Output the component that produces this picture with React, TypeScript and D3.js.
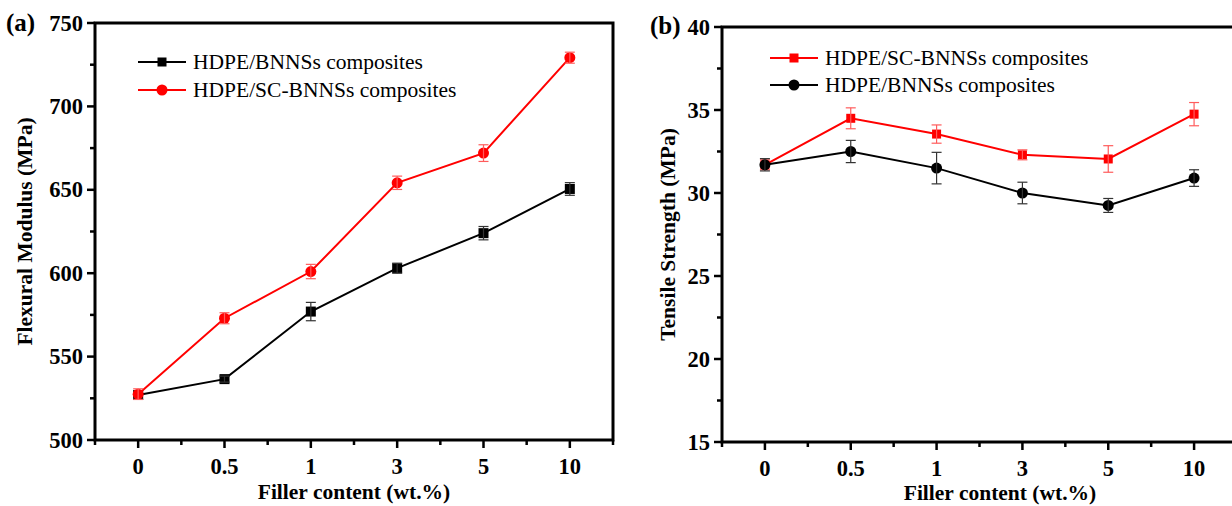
import { useRef, useEffect } from "react";
import * as d3 from "d3";

// filler loadings (wt.%) shown as evenly spaced categories
const fillerLabels = ["0", "0.5", "1", "3", "5", "10"];

// (a) flexural modulus, MPa
const modulusBNNS = [527, 536.5, 577, 603, 624, 650.5];
const modulusBNNSErr = [2.5, 1.8, 5.5, 3, 4, 3.8];
const modulusSC = [527.5, 573, 601, 654.2, 672, 729.2];
const modulusSCErr = [3.2, 3.3, 4.3, 4, 5, 3.3];
const modulusTicks = [500, 550, 600, 650, 700, 750];

// (b) tensile strength, MPa
const strengthSC = [31.7, 34.5, 33.55, 32.3, 32.05, 34.75];
const strengthSCErr = [0.3, 0.63, 0.55, 0.3, 0.8, 0.7];
const strengthBNNS = [31.7, 32.5, 31.5, 30.0, 29.25, 30.9];
const strengthBNNSErr = [0.37, 0.67, 0.95, 0.65, 0.42, 0.5];
const strengthTicks = [15, 20, 25, 30, 35, 40];

const FONT = "'Liberation Serif', 'Times New Roman', serif";

type Series = {
  name: string;
  values: number[];
  errors: number[];
  color: string;
  errColor: string;
  marker: "square" | "circle";
};

type PanelCfg = {
  tag: string;
  left: number;
  right: number;
  top: number;
  bottom: number;
  domain: [number, number];
  ticks: number[];
  minorStep: number;
  yTitle: string;
  yTitleX: number;
  xTitleX: number;
  xTitleY: number;
  tagX: number;
  tagY: number;
  legendX: number;
  legendY: number;
  legendGap: number;
  squareSize: number;
  series: Series[];
};

const panels: PanelCfg[] = [
  {
    tag: "(a)",
    left: 95, right: 613, top: 23, bottom: 440,
    domain: [500, 750],
    ticks: modulusTicks,
    minorStep: 25,
    yTitle: "Flexural Modulus (MPa)",
    yTitleX: 25,
    xTitleX: 354, xTitleY: 492,
    tagX: 6, tagY: 22,
    legendX: 138, legendY: 62, legendGap: 28,
    squareSize: 10,
    series: [
      { name: "HDPE/BNNSs composites", values: modulusBNNS, errors: modulusBNNSErr, color: "#000", errColor: "#333", marker: "square" },
      { name: "HDPE/SC-BNNSs composites", values: modulusSC, errors: modulusSCErr, color: "#ff0000", errColor: "#ff5c5c", marker: "circle" },
    ],
  },
  {
    tag: "(b)",
    left: 722, right: 1237, top: 27, bottom: 442,
    domain: [15, 40],
    ticks: strengthTicks,
    minorStep: 2.5,
    yTitle: "Tensile Strength (MPa)",
    yTitleX: 668,
    xTitleX: 1000, xTitleY: 493,
    tagX: 650, tagY: 25,
    legendX: 770, legendY: 58, legendGap: 27,
    squareSize: 9,
    series: [
      { name: "HDPE/SC-BNNSs composites", values: strengthSC, errors: strengthSCErr, color: "#ff0000", errColor: "#ff5c5c", marker: "square" },
      { name: "HDPE/BNNSs composites", values: strengthBNNS, errors: strengthBNNSErr, color: "#000", errColor: "#333", marker: "circle" },
    ],
  },
];

function drawMarker(g: any, kind: string, x: number, y: number, color: string, size: number) {
  if (kind === "square") {
    g.append("rect")
      .attr("x", x - size / 2)
      .attr("y", y - size / 2)
      .attr("width", size)
      .attr("height", size)
      .attr("fill", color);
  } else {
    g.append("circle")
      .attr("cx", x)
      .attr("cy", y)
      .attr("r", 5.5)
      .attr("fill", color);
  }
}

function drawPanel(svg: any, p: PanelCfg) {
  const x = d3.scalePoint<string>()
    .domain(fillerLabels)
    .range([p.left, p.right])
    .padding(0.5);
  const y = d3.scaleLinear().domain(p.domain).range([p.bottom, p.top]);
  const step = x.step();

  const g = svg.append("g");

  // frame
  g.append("rect")
    .attr("x", p.left)
    .attr("y", p.top)
    .attr("width", p.right - p.left)
    .attr("height", p.bottom - p.top)
    .attr("fill", "none")
    .attr("stroke", "#000")
    .attr("stroke-width", 3);

  // y ticks (major + minor, outward)
  const minor = d3.range(p.domain[0], p.domain[1] + 1e-9, p.minorStep);
  minor.forEach(v => {
    const isMajor = p.ticks.some(t => Math.abs(t - v) < 1e-6);
    g.append("line")
      .attr("x1", p.left)
      .attr("x2", p.left - (isMajor ? 8 : 5))
      .attr("y1", y(v))
      .attr("y2", y(v))
      .attr("stroke", "#000")
      .attr("stroke-width", 2.5);
  });
  p.ticks.forEach(v => {
    g.append("text")
      .attr("x", p.left - 12)
      .attr("y", y(v))
      .attr("text-anchor", "end")
      .attr("dominant-baseline", "central")
      .style("font-family", FONT)
      .style("font-weight", "700")
      .style("font-size", "22.5px")
      .text(v);
  });

  // x ticks: majors at categories, minors halfway between
  fillerLabels.forEach(c => {
    const cx = x(c) as number;
    g.append("line")
      .attr("x1", cx).attr("x2", cx)
      .attr("y1", p.bottom).attr("y2", p.bottom + 8)
      .attr("stroke", "#000").attr("stroke-width", 2.5);
    g.append("text")
      .attr("x", cx)
      .attr("y", p.bottom + 26)
      .attr("text-anchor", "middle")
      .attr("dominant-baseline", "central")
      .style("font-family", FONT)
      .style("font-weight", "700")
      .style("font-size", "22.5px")
      .text(c);
  });
  d3.range(-1, fillerLabels.length).forEach(i => {
    const mx = (x(fillerLabels[0]) as number) + (i + 0.5) * step;
    g.append("line")
      .attr("x1", mx).attr("x2", mx)
      .attr("y1", p.bottom).attr("y2", p.bottom + 5)
      .attr("stroke", "#000").attr("stroke-width", 2.5);
  });

  // axis titles
  g.append("text")
    .attr("x", p.xTitleX)
    .attr("y", p.xTitleY)
    .attr("text-anchor", "middle")
    .attr("dominant-baseline", "central")
    .style("font-family", FONT)
    .style("font-weight", "700")
    .style("font-size", "21.5px")
    .text("Filler content (wt.%)");

  g.append("text")
    .attr("transform", `translate(${p.yTitleX}, ${(p.top + p.bottom) / 2}) rotate(-90)`)
    .attr("text-anchor", "middle")
    .attr("dominant-baseline", "central")
    .style("font-family", FONT)
    .style("font-weight", "700")
    .style("font-size", "21.5px")
    .text(p.yTitle);

  g.append("text")
    .attr("x", p.tagX)
    .attr("y", p.tagY)
    .attr("dominant-baseline", "central")
    .style("font-family", FONT)
    .style("font-weight", "700")
    .style("font-size", "25px")
    .text(p.tag);

  // series
  const line = d3.line<number>()
    .x((_, i) => x(fillerLabels[i]) as number)
    .y(d => y(d));

  p.series.forEach(s => {
    const sg = g.append("g");
    sg.append("path")
      .attr("d", line(s.values))
      .attr("fill", "none")
      .attr("stroke", s.color)
      .attr("stroke-width", 2);

    s.values.forEach((v, i) => {
      drawMarker(sg, s.marker, x(fillerLabels[i]) as number, y(v), s.color, p.squareSize);
    });

    s.values.forEach((v, i) => {
      const cx = x(fillerLabels[i]) as number;
      const y1 = y(v - s.errors[i]);
      const y2 = y(v + s.errors[i]);
      sg.append("line")
        .attr("x1", cx).attr("x2", cx).attr("y1", y1).attr("y2", y2)
        .attr("stroke", s.errColor).attr("stroke-width", 1.2);
      [y1, y2].forEach(yy => {
        sg.append("line")
          .attr("x1", cx - 5).attr("x2", cx + 5).attr("y1", yy).attr("y2", yy)
          .attr("stroke", s.errColor).attr("stroke-width", 1.2);
      });
    });
  });

  // legend
  p.series.forEach((s, i) => {
    const ly = p.legendY + i * p.legendGap;
    g.append("line")
      .attr("x1", p.legendX).attr("x2", p.legendX + 48)
      .attr("y1", ly).attr("y2", ly)
      .attr("stroke", s.color).attr("stroke-width", 2);
    drawMarker(g, s.marker, p.legendX + 24, ly, s.color, 9);
    g.append("text")
      .attr("x", p.legendX + 55)
      .attr("y", ly)
      .attr("dominant-baseline", "central")
      .style("font-family", FONT)
      .style("font-size", "21.5px")
      .style("fill", "#000")
      .text(s.name);
  });
}

export default function App() {
  const svgRef = useRef<SVGSVGElement>(null);

  useEffect(() => {
    const svg = d3.select(svgRef.current);
    svg.selectAll("*").remove();
    panels.forEach(p => drawPanel(svg, p));
  }, []);

  return (
    <svg
      ref={svgRef}
      width={1232}
      height={506}
      style={{ position: "absolute", left: 0, top: 0, background: "#fff" }}
    ></svg>
  );
}
